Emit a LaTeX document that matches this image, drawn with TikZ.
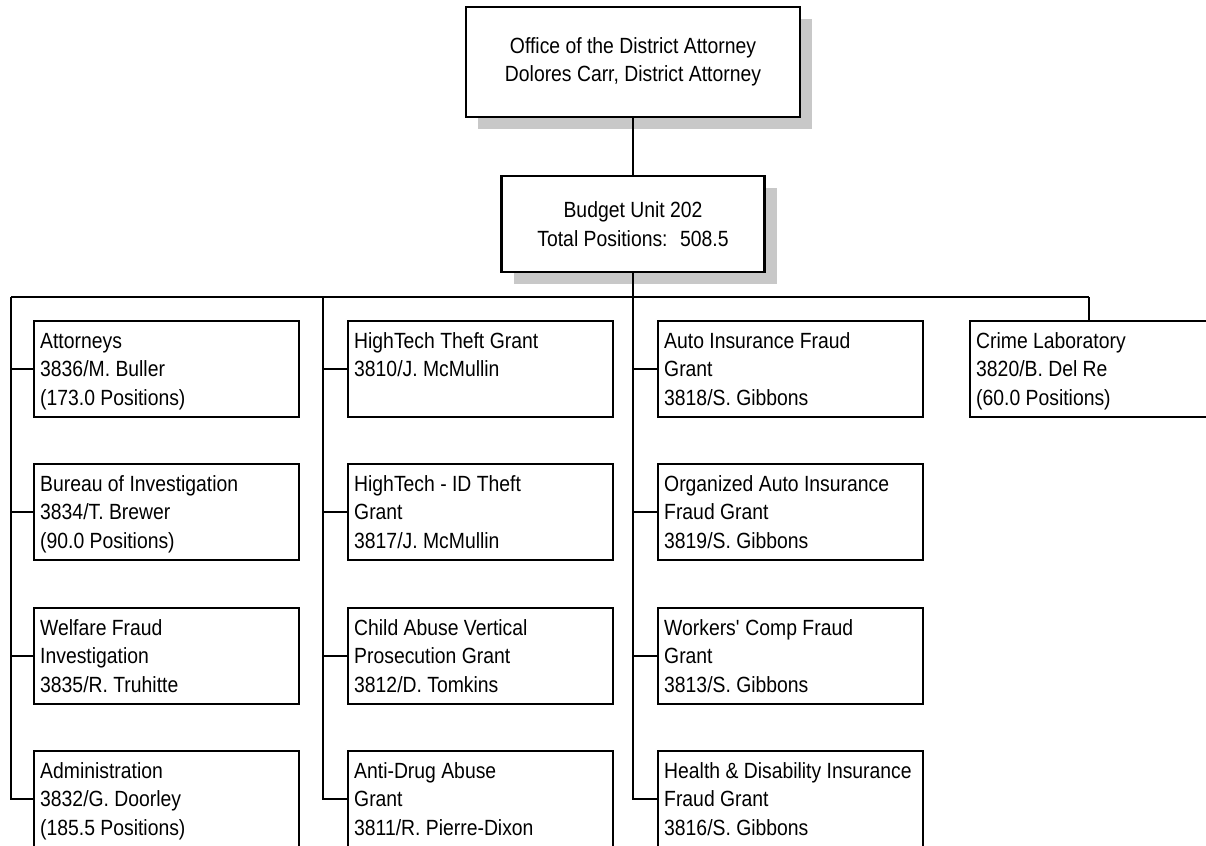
\documentclass[tikz,border=0pt]{standalone}
\usepackage{fontspec}
\setmainfont{Liberation Sans}[FakeStretch=0.88]
\usetikzlibrary{shadows}
\definecolor{shadowgray}{RGB}{200,200,200}

\tikzset{
  chart/.style={line width=1.2pt},
  head/.style={draw, line width=1.2pt, fill=white, align=flush center,
    drop shadow={shadow xshift=6pt, shadow yshift=-6pt, fill=shadowgray, opacity=1}},
  unit/.style={draw, line width=1.2pt, fill=white, anchor=north west, align=flush left,
    text width=126.5pt, inner xsep=3pt, inner ysep=0pt,
    text height=13.5pt, text depth=34.5pt},
}

\begin{document}
\begin{tikzpicture}[x=0.5pt, y=-0.5pt, font=\fontsize{11}{14.2}\selectfont]
\useasboundingbox (0,0) rectangle (1206,846);

\node[head, minimum width=167pt, minimum height=55pt] (office) at (633,62)
  {Office of the District Attorney\\Dolores Carr, District Attorney};
\node[head, minimum width=131.5pt, minimum height=48pt] (budget) at (633,224)
  {Budget Unit 202\\Total Positions: \ 508.5};

% first column
\node[unit] (att) at (33,320) {Attorneys\\3836/M. Buller\\(173.0 Positions)};
\node[unit] (bur) at (33,463) {Bureau of Investigation\\3834/T. Brewer\\(90.0 Positions)};
\node[unit] (wel) at (33,607) {Welfare Fraud\\Investigation\\3835/R. Truhitte};
\node[unit] (adm) at (33,750) {Administration\\3832/G. Doorley\\(185.5 Positions)};

% second column
\node[unit] (htg) at (347,320) {HighTech Theft Grant\\3810/J. McMullin};
\node[unit] (idt) at (347,463) {HighTech - ID Theft\\Grant\\3817/J. McMullin};
\node[unit] (cav) at (347,607) {Child Abuse Vertical\\Prosecution Grant\\3812/D. Tomkins};
\node[unit] (drug) at (347,750) {Anti-Drug Abuse\\Grant\\3811/R. Pierre-Dixon};

% third column
\node[unit] (aif) at (657,320) {Auto Insurance Fraud\\Grant\\3818/S. Gibbons};
\node[unit] (oai) at (657,463) {Organized Auto Insurance\\Fraud Grant\\3819/S. Gibbons};
\node[unit] (wcf) at (657,607) {Workers\textquotesingle{} Comp Fraud\\Grant\\3813/S. Gibbons};
\node[unit] (hdi) at (657,750) {Health \& Disability Insurance\\Fraud Grant\\3816/S. Gibbons};

\node[unit] (lab) at (969,320) {Crime Laboratory\\3820/B. Del Re\\(60.0 Positions)};

\coordinate (busL) at (11,297);
\coordinate (busB) at (323,297);
\coordinate (busR) at (1089,297);

\draw[chart] (office) -- (budget);
\draw[chart] (busL) -- (busR);
\draw[chart] (busL) |- (adm.west);
\draw[chart] (busB) |- (drug.west);
\draw[chart] (budget) |- (hdi.west);
\draw[chart] (busR) -- (busR |- lab.north);
\foreach \n in {att,bur,wel} \draw[chart] (\n.west) -- (\n.west -| busL);
\foreach \n in {htg,idt,cav} \draw[chart] (\n.west) -- (\n.west -| busB);
\foreach \n in {aif,oai,wcf} \draw[chart] (\n.west) -- (\n.west -| budget.south);
\end{tikzpicture}
\end{document}
